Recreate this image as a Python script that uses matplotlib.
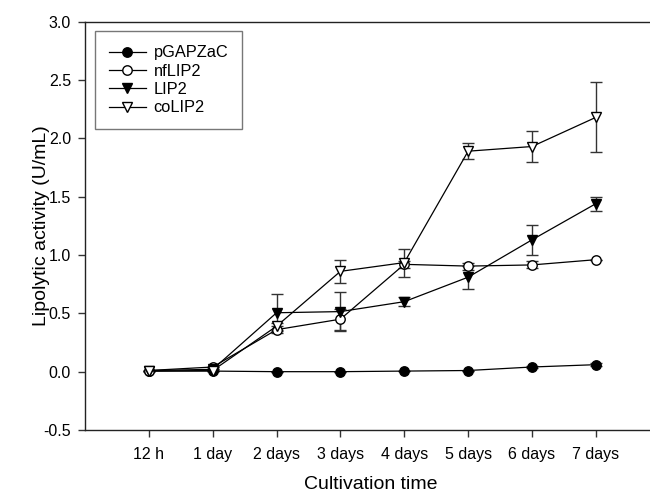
import numpy as np
import matplotlib
matplotlib.use("Agg")
import matplotlib.pyplot as plt

plt.rcParams['font.family'] = ['Liberation Sans', 'DejaVu Sans']

# Data
times = ["12 h", "1 day", "2 days", "3 days", "4 days", "5 days", "6 days", "7 days"]
pgap = [0.005, 0.005, 0.0, 0.0, 0.005, 0.01, 0.04, 0.06]
pgap_err = [0, 0, 0, 0, 0, 0, 0.01, 0.015]
nflip2 = [0.01, 0.04, 0.36, 0.45, 0.92, 0.905, 0.915, 0.96]
nflip2_err = [0, 0, 0.03, 0.09, 0.03, 0.03, 0.03, 0]
lip2 = [0.01, 0.02, 0.505, 0.515, 0.60, 0.81, 1.13, 1.44]
lip2_err = [0, 0, 0.16, 0.17, 0.04, 0.10, 0.13, 0.06]
colip2 = [0.005, 0.01, 0.39, 0.86, 0.935, 1.89, 1.93, 2.18]
colip2_err = [0, 0, 0.03, 0.10, 0.12, 0.07, 0.13, 0.30]

x = np.arange(len(times))

fig = plt.figure(figsize=(6.5, 4.95), dpi=100)
ax = fig.add_axes([85/650, 65/495, 1 - 85/650 + 0.01, (430 - 21.7)/495])

series = [
    ("pGAPZaC", pgap, pgap_err, "o", "black"),
    ("nfLIP2", nflip2, nflip2_err, "o", "white"),
    ("LIP2", lip2, lip2_err, "v", "black"),
    ("coLIP2", colip2, colip2_err, "v", "white"),
]

handles = []
for name, y, e, m, fc in series:
    c = ax.errorbar(x, y, yerr=e, color="black", lw=0.9, marker=m, ms=6.8,
                    mfc=fc, mec="black", mew=1.0, ecolor="#333333",
                    elinewidth=1.0, capsize=4.3, capthick=1.0, label=name)
    handles.append(c[0])

ax.set_xlim(-1.0, 7.95)
ax.set_ylim(-0.5, 3.0)
ax.set_xticks(x)
ax.set_xticklabels(times)
ax.set_yticks(np.arange(-0.5, 3.01, 0.5))
ax.set_yticklabels([f"{v:.1f}" for v in np.arange(-0.5, 3.01, 0.5)])
ax.tick_params(direction="out", length=5, width=1, labelsize=11.5, color="#333333")
ax.tick_params(axis="x", pad=7)
ax.tick_params(axis="y", pad=5)
ax.spines["right"].set_visible(False)
for s in ["left", "bottom", "top"]:
    ax.spines[s].set_linewidth(1.0)
    ax.spines[s].set_color("#222222")

ax.set_xlabel("Cultivation time", fontsize=14, labelpad=10)
ax.set_ylabel("Lipolytic activity (U/mL)", fontsize=14, labelpad=-4.5)

leg = ax.legend(handles=handles, labels=[s[0] for s in series],
                loc="upper left", bbox_to_anchor=(0.017, 0.976), fontsize=11.8,
                fancybox=False, frameon=True, handlelength=2.25,
                borderpad=0.85, labelspacing=0.2, handletextpad=0.5,
                borderaxespad=0)
leg.get_frame().set_edgecolor("#555555")
leg.get_frame().set_linewidth(1.0)

fig.savefig("out.png", dpi=100)
